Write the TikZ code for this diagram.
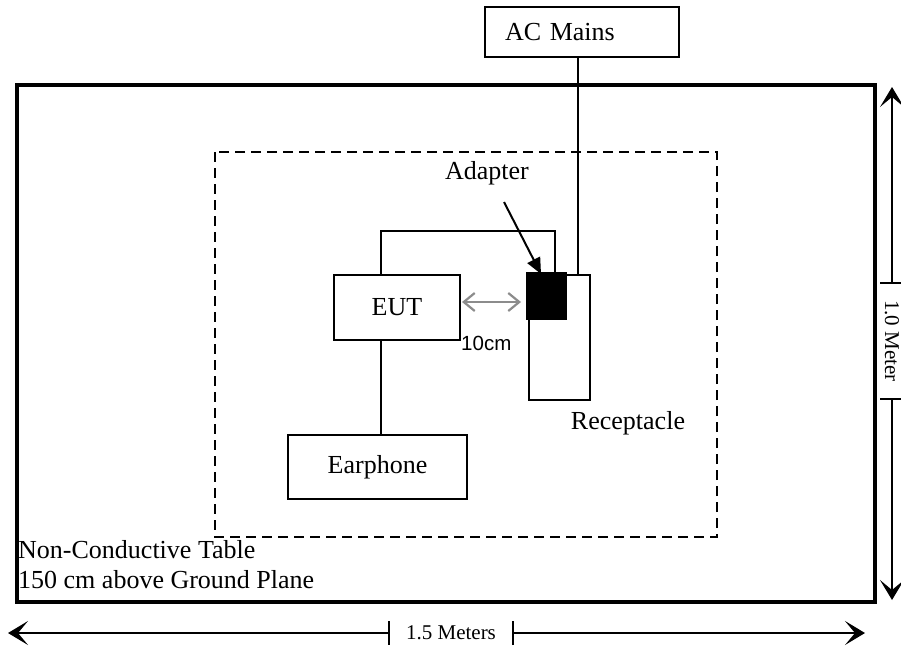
\documentclass[tikz,border=0pt]{standalone}
\usepackage{fontspec}
\setmainfont{Liberation Serif}
\setsansfont{Liberation Sans}
\usetikzlibrary{arrows.meta, positioning}

\begin{document}
\begin{tikzpicture}[x=1pt, y=-1pt,
    box/.style={draw, line width=2pt, inner sep=0pt, font=\fontsize{26}{30}\selectfont},
    txt/.style={font=\fontsize{26}{30}\selectfont},
    dim/.style={line width=1.5pt, {Stealth[length=20pt,width=24pt,inset=10pt]}-{Bar[width=24pt]}},
    dimlabel/.style={inner xsep=16pt, inner ysep=0pt, font=\fontsize{21}{24}\selectfont}]
    % Invisible bounding box, same size as the page
    \path[use as bounding box] (0,0) rectangle (901,651);

    % Table and test area
    \draw[line width=4.5pt] (17,85) rectangle (875,602);
    \draw[line width=2pt, dash pattern=on 10pt off 6pt] (215,152) rectangle (717,537);

    % Units
    \node[box, text width=154pt, inner xsep=20pt, minimum height=50pt, align=left] (mains) at (582,32) {AC Mains};
    \node[box, minimum width=126pt, minimum height=65pt] (eut) at (397,307.5) {EUT};
    \node[box, minimum width=179pt, minimum height=64pt] (phone) at (377.5,467) {Earphone};
    \node[box, minimum width=61pt, minimum height=125pt] (recept) at (559.5,337.5) {};
    \node[box, fill=black, minimum width=39pt, minimum height=46pt] (adapter) at (546.5,296) {};

    % Labels
    \node[txt] (adlabel) at (487,173) {Adapter};
    \node[txt] (reclabel) at (628,423) {Receptacle};
    \node[font=\sffamily\fontsize{20.5}{24}\selectfont, anchor=west, inner sep=0pt] (gaplabel) at (461,343) {10cm};
    \node[txt, align=left, anchor=west, inner sep=0pt] (table) at (18,565) {Non-Conductive Table\\150 cm above Ground Plane};

    % Cables
    \coordinate (bend) at (555,231);
    \coordinate (plug) at (578,275);
    \coordinate (adtail) at (504,202);
    \coordinate (adtip) at (541,274);
    \draw[line width=2pt] ([xshift=-16pt]eut.north) |- (bend) -- (bend |- adapter.north);
    \draw[line width=2pt] ([xshift=-16pt]eut.south) -- ([xshift=-16pt]eut.south |- phone.north);
    \draw[line width=2pt] (mains.south -| plug) -- (plug);
    \draw[line width=2pt, -{Triangle[length=16pt,width=14pt]}] (adtail) -- (adtip);
    \draw[black!45, line width=2.2pt, {Straight Barb[length=11pt,width=18pt]}-{Straight Barb[length=11pt,width=18pt]}, shorten <=1pt, shorten >=5pt]
        ([yshift=5.5pt]eut.east) -- ([yshift=5.5pt]eut.east -| adapter.west);

    % Dimensions
    \coordinate (vtop) at (892,87);
    \coordinate (vbot) at (892,600);
    \coordinate (hleft) at (8,633);
    \coordinate (hright) at (865,633);
    \node[dimlabel, rotate=-90] (vlab) at (892,341) {1.0 Meter};
    \node[dimlabel] (hlab) at (451,633) {1.5 Meters};
    \draw[dim] (vtop) -- (vlab.west);
    \draw[dim] (vbot) -- (vlab.east);
    \draw[dim] (hleft) -- (hlab.west);
    \draw[dim] (hright) -- (hlab.east);
\end{tikzpicture}
\end{document}
